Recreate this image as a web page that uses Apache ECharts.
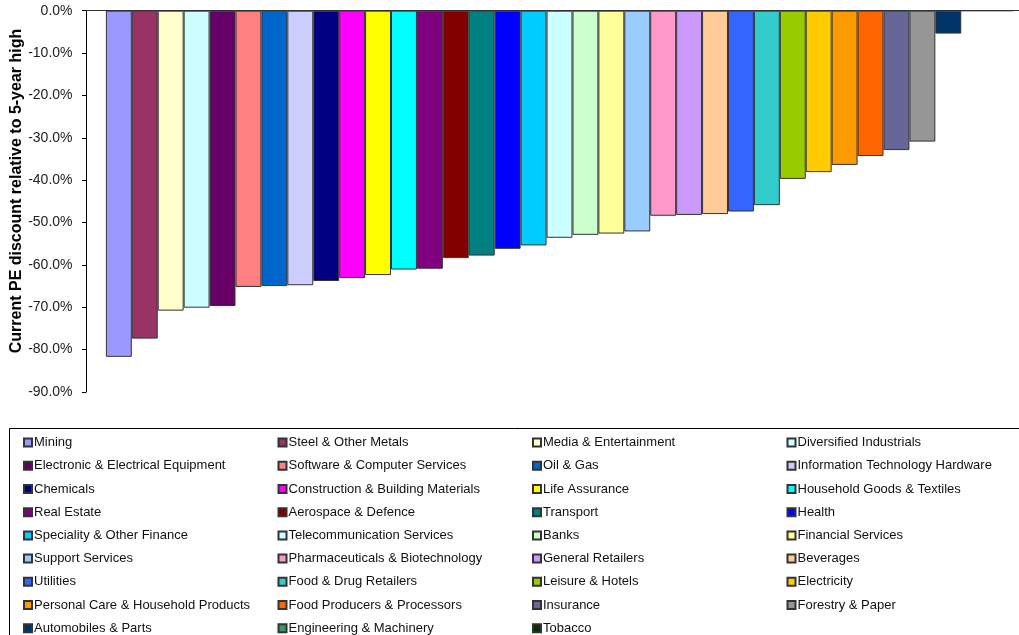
<!doctype html>
<html>

<head>
    <meta charset="utf-8">
    <title>PE discount</title>
    <script type="text/javascript" src="https://cdn.jsdelivr.net/npm/echarts@6/dist/echarts.min.js"></script>
</head>

<body style="margin:0;padding:0;background:#fff">
    <div id="tb" style="width:1019px;height:635px"></div>
    <script>
        // 行业名称(图例顺序)
        var sectors = ['Mining', 'Steel & Other Metals', 'Media & Entertainment', 'Diversified Industrials',
            'Electronic & Electrical Equipment', 'Software & Computer Services', 'Oil & Gas', 'Information Technology Hardware',
            'Chemicals', 'Construction & Building Materials', 'Life Assurance', 'Household Goods & Textiles',
            'Real Estate', 'Aerospace & Defence', 'Transport', 'Health',
            'Speciality & Other Finance', 'Telecommunication Services', 'Banks', 'Financial Services',
            'Support Services', 'Pharmaceuticals & Biotechnology', 'General Retailers', 'Beverages',
            'Utilities', 'Food & Drug Retailers', 'Leisure & Hotels', 'Electricity',
            'Personal Care & Household Products', 'Food Producers & Processors', 'Insurance', 'Forestry & Paper',
            'Automobiles & Parts', 'Engineering & Machinery', 'Tobacco'];
        // 相对5年高点的PE折让(%)
        var discount = [-81.7, -77.4, -70.8, -70.1, -69.7, -65.2, -65.0, -64.8,
            -63.8, -63.1, -62.4, -61.1, -60.9, -58.4, -57.8, -56.2,
            -55.4, -53.6, -52.9, -52.6, -52.1, -48.4, -48.2, -48.0,
            -47.4, -45.9, -39.7, -38.1, -36.4, -34.3, -32.9, -30.9,
            -5.4, 0, 0];
        // 颜色
        var colors = ['#9999FF', '#993366', '#FFFFCC', '#CCFFFF', '#660066', '#FF8080', '#0066CC', '#CCCCFF',
            '#000080', '#FF00FF', '#FFFF00', '#00FFFF', '#800080', '#800000', '#008080', '#0000FF',
            '#00CCFF', '#CCFFFF', '#CCFFCC', '#FFFF99', '#99CCFF', '#FF99CC', '#CC99FF', '#FFCC99',
            '#3366FF', '#33CCCC', '#99CC00', '#FFCC00', '#FF9900', '#FF6600', '#666699', '#969696',
            '#003366', '#339966', '#003300'];
        var yTicks = [0, -10, -20, -30, -40, -50, -60, -70, -80, -90];

        var bt = document.getElementById('tb');
        var btchart = echarts.init(bt);

        var series = sectors.map(function (name, i) {
            return {
                name: name,
                type: 'bar',
                barGap: '0%',
                barCategoryGap: '4.2%',
                clip: true,
                itemStyle: {
                    color: colors[i],
                    borderColor: '#333',
                    borderWidth: 1
                },
                emphasis: { disabled: true },
                data: [discount[i]]
            };
        });

        // 图例4列
        var legends = [];
        for (var c = 0; c < 4; c++) {
            var names = [];
            for (var k = c; k < sectors.length; k += 4) names.push(sectors[k]);
            legends.push({
                data: names,
                orient: 'vertical',
                left: 23 + c * 254.5,
                top: 431,
                height: 240,
                padding: 0,
                itemGap: 0,
                itemWidth: 8,
                itemHeight: 8,
                icon: 'rect',
                selectedMode: false,
                textStyle: {
                    fontFamily: 'Liberation Sans, Arial',
                    fontSize: 13,
                    color: '#111',
                    lineHeight: 23.2,
                    padding: [0, 0, 0, -3]
                }
            });
        }

        btchart.setOption({
            animation: false,
            grid: {
                left: 86,
                top: 10.7,
                width: 947,
                height: 381.3,
                outerBoundsMode: 'none',
                containLabel: false
            },
            legend: legends,
            xAxis: {
                type: 'category',
                data: [''],
                axisLine: { lineStyle: { color: '#333', width: 1 } },
                axisTick: { show: false },
                axisLabel: { show: false }
            },
            yAxis: {
                type: 'value',
                min: yTicks[yTicks.length - 1],
                max: yTicks[0],
                interval: 10,
                axisLine: { show: true, lineStyle: { color: '#000' } },
                axisTick: { show: true, length: 4, lineStyle: { color: '#000' } },
                splitLine: { show: false },
                axisLabel: {
                    fontFamily: 'Liberation Sans, Arial',
                    fontSize: 14,
                    color: '#222',
                    margin: 13.5,
                    formatter: function (v) { return v.toFixed(1) + '%'; }
                }
            },
            graphic: [{
                type: 'text',
                x: 17,
                y: 191,
                rotation: Math.PI / 2,
                style: {
                    text: 'Current PE discount relative to 5-year high',
                    fontFamily: 'Liberation Sans, Arial',
                    fontWeight: 'bold',
                    fontSize: 16,
                    fill: '#000',
                    textAlign: 'center',
                    textVerticalAlign: 'middle'
                }
            }, {
                // 图例外框
                type: 'rect',
                shape: { x: 9.5, y: 428.5, width: 1100, height: 300 },
                style: { fill: 'none', stroke: '#000', lineWidth: 1 }
            }],
            series: series
        });
    </script>
</body>

</html>
